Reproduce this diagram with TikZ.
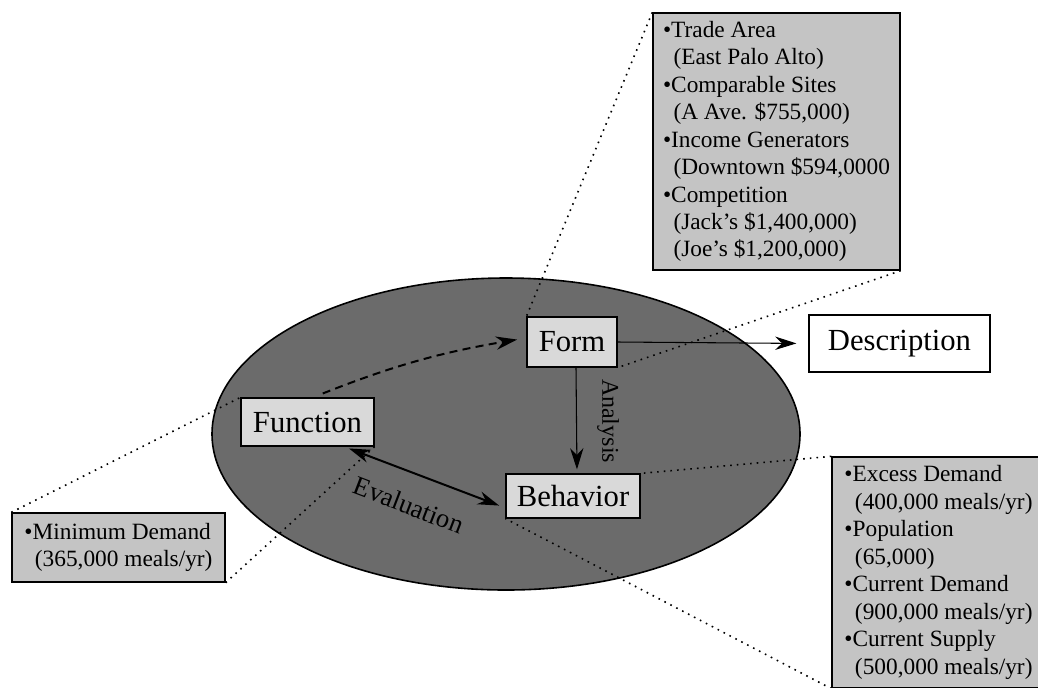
\documentclass[tikz,border=0pt]{standalone}
\usepackage{fontspec}
\setmainfont{Liberation Serif}
\usetikzlibrary{arrows.meta}
\newcommand{\calloutind}{\hspace*{0.45em}}

\begin{document}
\begin{tikzpicture}[x=0.75pt, y=-0.75pt,
    >={Stealth[length=16pt, width=10pt]},
    part/.style={draw, line width=0.9pt, fill=black!15, inner sep=0pt, font=\fontsize{23}{26}\selectfont},
    callout/.style={draw, line width=1pt, fill=black!23, align=left, inner sep=0pt, font=\fontsize{17.5}{20.6}\selectfont},
    zoomline/.style={line width=1.2pt, dash pattern=on 1.2pt off 3.8pt}]

    \useasboundingbox (0,0) rectangle (1038,687);

    % the model
    \draw[line width=1.2pt, fill=black!58] (506,434) ellipse [x radius=294, y radius=156];

    \node[part, minimum width=67.5pt, minimum height=37.5pt] (form) at (572,342) {Form};
    \node[part, minimum width=99.75pt, minimum height=36pt] (function) at (307.5,422) {Function};
    \node[part, minimum width=100.5pt, minimum height=33pt] (behavior) at (573,496) {Behavior};
    \node[draw, line width=0.8pt, fill=white, minimum width=135.75pt, minimum height=42.75pt,
          font=\fontsize{23}{26}\selectfont] (desc) at (899.5,343.5) {Description};

    % data boxes
    \node[callout, minimum width=185.25pt, minimum height=192.75pt] (site) at (776.5,141.5)
        {\textbullet Trade Area\\ \calloutind(East Palo Alto)\\ \textbullet Comparable Sites\\
         \calloutind(A Ave. \$755,000)\\ \textbullet Income Generators\\ \calloutind(Downtown \$594,0000\\
         \textbullet Competition\\ \calloutind(Jack's \$1,400,000)\\ \calloutind(Joe's \$1,200,000)};
    \node[callout, minimum width=159.75pt, minimum height=51.75pt] (minimum) at (118.5,547.5)
        {\textbullet Minimum Demand\\ \calloutind(365,000 meals/yr)};
    \node[callout, minimum width=159.75pt, minimum height=173.25pt] (market) at (938.5,572.5)
        {\textbullet Excess Demand\\ \calloutind(400,000 meals/yr)\\ \textbullet Population\\ \calloutind(65,000)\\
         \textbullet Current Demand\\ \calloutind(900,000 meals/yr)\\ \textbullet Current Supply\\ \calloutind(500,000 meals/yr)};

    % zoom lines
    \draw[zoomline] (site.north west) -- (form.north west);
    \draw[zoomline] (site.south east) -- (form.south east);
    \draw[zoomline] (minimum.north west) -- (function.north west);
    \draw[zoomline] (minimum.south east) -- (function.south east);
    \draw[zoomline] (market.north west) -- (behavior.north east);
    \draw[zoomline] (market.south west) -- (behavior.south west);

    % arrows
    \draw[->, line width=0.8pt, shorten >=9pt] (form.east) -- (desc.west);
    \draw[->, line width=0.8pt, shorten >=3pt] ([xshift=3pt]form.south) -- ([xshift=3pt]behavior.north);
    \draw[<->, line width=1.5pt, shorten <=4pt, shorten >=5pt] (function.-34) -- (behavior.190);
    \draw[->, line width=1.5pt, dash pattern=on 6pt off 4pt, shorten <=8pt, shorten >=7pt]
        ([xshift=4pt]function.north) to[bend left=6] ([yshift=3pt]form.west);

    \node[rotate=-90, font=\fontsize{18}{20}\selectfont] (analysis) at (608,421) {Analysis};
    \node[rotate=-21, font=\fontsize{20}{22}\selectfont] (evaluation) at (409,505) {Evaluation};

\end{tikzpicture}
\end{document}
